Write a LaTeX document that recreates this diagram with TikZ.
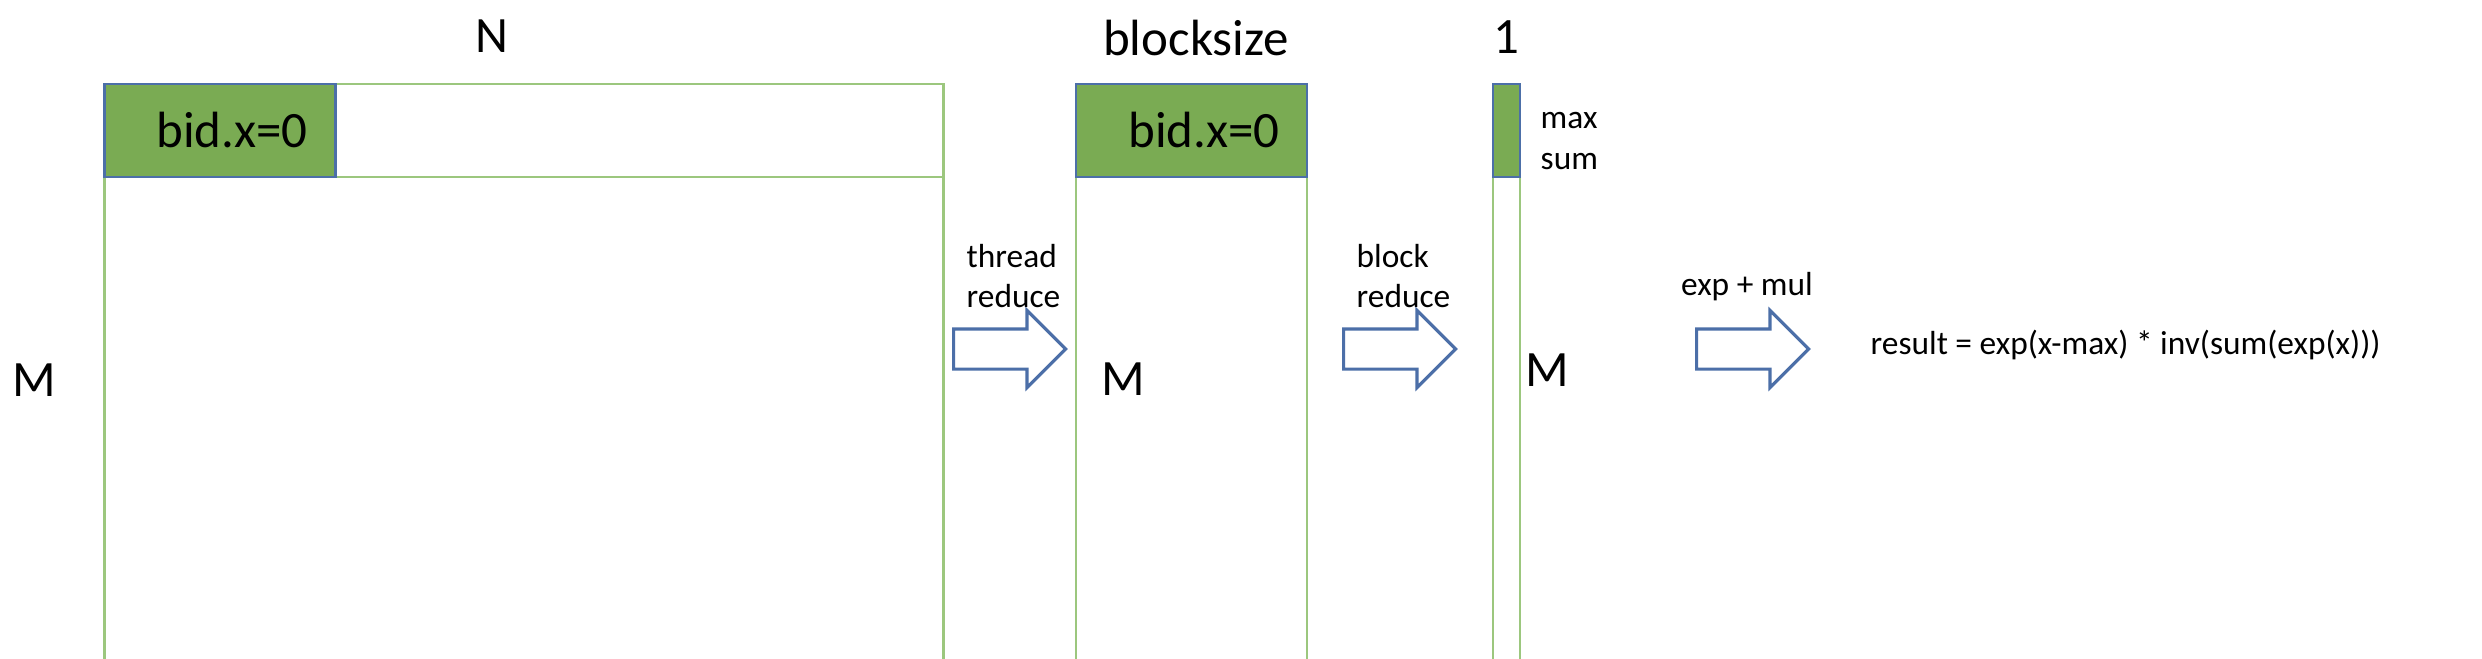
\documentclass[tikz,border=0pt]{standalone}
\usepackage{fontspec}
\setmainfont{Carlito}
\usetikzlibrary{shapes.arrows}

\definecolor{cellgreen}{RGB}{122,171,83}
\definecolor{cellblue}{RGB}{76,111,168}
\definecolor{linegreen}{RGB}{156,199,126}

\begin{document}
\begin{tikzpicture}[
        big/.style={font=\fontsize{14.5}{17}\selectfont, inner sep=0pt},
        small/.style={font=\fontsize{9.5}{11.6}\selectfont, inner sep=0pt, align=left},
        cell/.style={draw=cellblue, fill=cellgreen, line width=0.8pt},
        col/.style={draw=linegreen, line width=0.6pt},
        blockarrow/.style={single arrow, draw=cellblue, line width=0.9pt, fill=white,
            minimum height=1.12cm, minimum width=0.74cm, single arrow head extend=0.185cm,
            inner xsep=0pt, inner ysep=0.185cm, anchor=west}
    ]
        \useasboundingbox (0,0) rectangle (24.82,-6.58);

        % input matrix M x N
        \draw[col] (1.045,-6.6) -- (1.045,-0.84) -- (9.435,-0.84) -- (9.435,-6.6);
        \draw[col] (1.045,-1.77) -- (9.435,-1.77);
        \draw[cell] (1.045,-0.84) rectangle (3.356,-1.77);
        \node[big] (bidA) at (2.32,-1.30) {bid.x=0};
        \node[big] (N) at (4.92,-0.36) {N};
        \node[big] (MA) at (0.34,-3.80) {M};

        % M x blocksize
        \draw[col] (10.76,-6.6) -- (10.76,-0.84) -- (13.07,-0.84) -- (13.07,-6.6);
        \draw[cell] (10.76,-0.84) rectangle (13.07,-1.77);
        \node[big] (bidB) at (12.04,-1.30) {bid.x=0};
        \node[big] (bs) at (11.96,-0.38) {blocksize};
        \node[big] (MB) at (11.23,-3.79) {M};

        % M x 1
        \draw[col] (14.93,-6.6) -- (14.93,-0.84) -- (15.20,-0.84) -- (15.20,-6.6);
        \draw[cell] (14.93,-0.84) rectangle (15.20,-1.77);
        \node[big] (one) at (15.06,-0.37) {1};
        \node[small, anchor=west] (maxsum) at (15.40,-1.41) {max\\sum};
        \node[big] (MC) at (15.47,-3.70) {M};

        % steps
        \node[blockarrow] (arrA) at (9.52,-3.49) {};
        \node[small, anchor=west] (thr) at (9.66,-2.76) {thread\\reduce};
        \node[blockarrow] (arrB) at (13.42,-3.49) {};
        \node[small, anchor=west] (blk) at (13.56,-2.76) {block\\reduce};
        \node[blockarrow] (arrC) at (16.95,-3.49) {};
        \node[small] (expmul) at (17.47,-2.87) {exp + mul};
        \node[small, anchor=west] (res) at (18.70,-3.45) {result = exp(x-max) * inv(sum(exp(x)))};
    \end{tikzpicture}
\end{document}
